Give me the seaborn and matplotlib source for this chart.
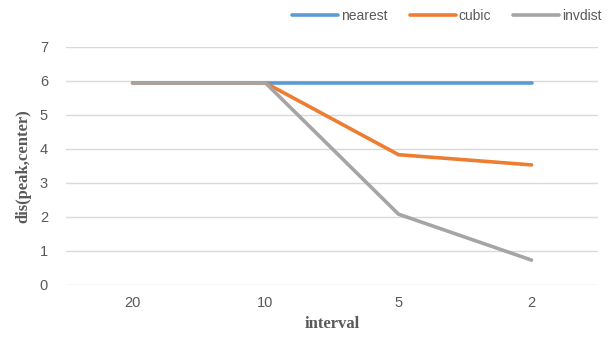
import matplotlib
matplotlib.use("Agg")
import matplotlib.pyplot as plt
import pandas as pd
import seaborn as sns

intervals = ["20", "10", "5", "2"]
nearest = [5.94, 5.94, 5.94, 5.94]
cubic = [5.94, 5.94, 3.83, 3.53]
invdist = [5.94, 5.94, 2.08, 0.73]

series = {"nearest": nearest, "cubic": cubic, "invdist": invdist}
colors = {"nearest": "#5B9BD5", "cubic": "#ED7D31", "invdist": "#A5A5A5"}

df = pd.DataFrame(
    [(name, x, v) for name, vals in series.items() for x, v in zip(intervals, vals)],
    columns=["method", "interval", "dist"],
)

sns.set_theme(style="white")
plt.rcParams["font.family"] = ["Liberation Sans", "DejaVu Sans"]

fig = plt.figure(figsize=(6.08, 3.40), dpi=100)
ax = fig.add_axes([0.1086, 0.162, 0.875, 0.70])

sns.lineplot(
    data=df, x="interval", y="dist", hue="method", palette=colors,
    linewidth=2.6, sort=False, ax=ax, legend=False,
)

ax.set_xlim(-0.5, 3.5)
ax.set_ylim(0, 7)
ax.set_yticks(range(0, 8))
ax.yaxis.grid(True, color="#D9D9D9", linewidth=1)
ax.set_axisbelow(True)
for s in ax.spines.values():
    s.set_visible(False)
ax.tick_params(axis="both", length=0, labelsize=10.5, colors="#595959")
ax.tick_params(axis="x", pad=8)
ax.tick_params(axis="y", pad=13)

serif = dict(family=["Liberation Serif", "DejaVu Serif"], fontweight="bold",
             fontsize=12, color="#595959")
ax.set_xlabel("interval", labelpad=4, **serif)
ax.set_ylabel("dis(peak,center)", labelpad=6, **serif)

handles = [plt.Line2D([], [], color=colors[k], linewidth=2.6) for k in series]
fig.legend(handles, list(series), loc="center", bbox_to_anchor=(0.735, 0.952),
           ncol=3, frameon=False, fontsize=10, handlelength=3.3,
           handletextpad=0.2, columnspacing=1.6, labelcolor="#595959")

fig.savefig("out.png", dpi=100)
